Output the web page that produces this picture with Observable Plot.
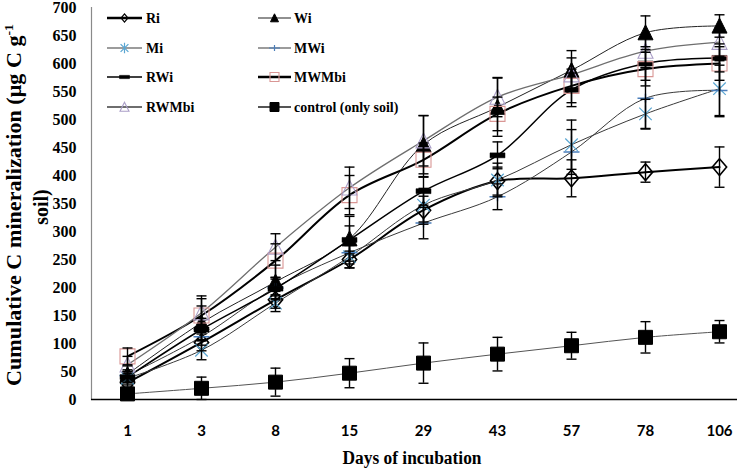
<!DOCTYPE html>
<html><head><meta charset="utf-8">
<script src="https://cdn.jsdelivr.net/npm/d3@7"></script>
<script src="https://cdn.jsdelivr.net/npm/@observablehq/plot@0.6"></script>
<style>
html,body{margin:0;padding:0;background:#fff;}
#wrap{position:relative;width:737px;height:468px;overflow:hidden;background:#fff;}
#overlay{position:absolute;left:0;top:0;pointer-events:none;}
</style></head><body><div id="wrap"></div>
<script>
// ---- data ----
const days = ["1","3","8","15","29","43","57","78","106"];
const yTicks = [0,50,100,150,200,250,300,350,400,450,500,550,600,650,700];
const seriesNames = ["Ri","Wi","Mi","MWi","RWi","MWMbi","RWMbi","control (only soil)"];
const riMean = [30, 102, 178, 250, 338, 390, 395, 406, 415];
const riSd   = [8, 15, 15, 15, 25, 25, 33, 18, 36];
const wiMean = [45, 137, 210, 287, 455, 522, 588, 655, 667];
const wiSd   = [15, 30, 30, 40, 52, 52, 35, 30, 20];
const miMean = [38, 88, 172, 255, 347, 392, 455, 510, 555];
const miSd   = [12, 17, 15, 20, 30, 30, 44, 26, 50];
const mwiMean = [43, 112, 200, 262, 315, 362, 442, 538, 552];
const mwiSd   = [10, 15, 15, 20, 28, 23, 40, 55, 45];
const rwiMean = [40, 125, 198, 285, 372, 436, 553, 600, 610];
const rwiSd   = [10, 20, 20, 25, 25, 24, 30, 30, 25];
const mwmbiMean = [77, 150, 248, 365, 428, 510, 560, 590, 600];
const mwmbiSd   = [15, 30, 30, 35, 30, 30, 30, 30, 30];
const rwmbiMean = [62, 155, 272, 378, 462, 540, 580, 622, 638];
const rwmbiSd   = [15, 30, 24, 37, 45, 35, 30, 30, 25];
const controlMean = [10, 20, 31, 47, 65, 81, 96, 111, 121];
const controlSd   = [5, 20, 25, 26, 36, 30, 24, 28, 20];

const means = [riMean, wiMean, miMean, mwiMean, rwiMean, mwmbiMean, rwmbiMean, controlMean];
const sds = [riSd, wiSd, miSd, mwiSd, rwiSd, mwmbiSd, rwmbiSd, controlSd];

// ---- symbols ----
const R = s => Math.sqrt(s/Math.PI);
const sym = {
  diamond: {draw(c,s){const r=R(s); c.moveTo(0,-r*1.12); c.lineTo(r*0.95,0); c.lineTo(0,r*1.12); c.lineTo(-r*0.95,0); c.closePath();}},
  triangle: {draw(c,s){const r=R(s); c.moveTo(0,-r*1.05); c.lineTo(r,r*0.95); c.lineTo(-r,r*0.95); c.closePath();}},
  square: {draw(c,s){const r=R(s); c.rect(-r,-r,2*r,2*r);}},
  dash: {draw(c,s){const r=R(s); c.rect(-r,-r*0.33,2*r,r*0.66);}},
  plus: {draw(c,s){const r=R(s); c.moveTo(-r,0); c.lineTo(r,0); c.moveTo(0,-r*0.55); c.lineTo(0,r*0.55);}},
  star: {draw(c,s){const r=R(s); const d=r*0.78; c.moveTo(-d,-d); c.lineTo(d,d); c.moveTo(-d,d); c.lineTo(d,-d); c.moveTo(0,-r*1.05); c.lineTo(0,r*1.05);}},
  cap: {draw(c,s){const r=R(s); c.moveTo(-r,0); c.lineTo(r,0);}}
};

// ---- styles (not data) ----
const styles = [
 {line:"#000", lw:2, sym:sym.diamond, fill:"none", stroke:"#000", sw:1.6, r:7.5, lr:3.6, llw:2.5},
 {line:"#222", lw:1, sym:sym.triangle, fill:"#000", stroke:"#000", sw:1, r:7.5, lr:4, llw:1.2},
 {line:"#3a3a3a", lw:1, sym:sym.star, fill:"none", stroke:"#5aa6d2", sw:1.2, r:8, lr:5, llw:1.2},
 {line:"#3a3a3a", lw:1, sym:sym.plus, fill:"none", stroke:"#4a7ebb", sw:1.5, r:8, lr:5.5, llw:1.2},
 {line:"#000", lw:1.5, sym:sym.dash, fill:"#000", stroke:"#000", sw:0.5, r:7.5, lr:5, llw:1.5},
 {line:"#000", lw:2, sym:sym.square, fill:"none", stroke:"#d99694", sw:1.1, r:7.5, lr:4.5, llw:2.5},
 {line:"#6e6e6e", lw:1.3, sym:sym.triangle, fill:"none", stroke:"#ab9fc8", sw:1.1, r:7.5, lr:4.5, llw:2},
 {line:"#555", lw:1, sym:sym.square, fill:"#000", stroke:"#000", sw:1, r:7, lr:4.5, llw:2}
];

const tables = seriesNames.map((name, k) => days.map((d, i) => ({day: d, series: name, mean: means[k][i], lo: means[k][i]-sds[k][i], hi: means[k][i]+sds[k][i]})));

const marks = [];
marks.push(Plot.frame({anchor:"left", stroke:"#8a8a8a", strokeWidth:1.2}));
tables.forEach((t,k) => {
  const s = styles[k];
  marks.push(Plot.line(t, {x:"day", y:"mean", stroke:s.line, strokeWidth:s.lw, curve:"catmull-rom"}));
});
tables.forEach((t,k) => {
  const s = styles[k];
  marks.push(Plot.dot(t, {x:"day", y:"mean", symbol:s.sym, r:s.r, fill:s.fill, stroke:s.stroke, strokeWidth:s.sw}));
});
tables.forEach((t,k) => {
  marks.push(Plot.ruleX(t, {x:"day", y1:"lo", y2:"hi", stroke:"#000", strokeWidth:1.4}));
  marks.push(Plot.dot(t, {x:"day", y:"lo", symbol:sym.cap, r:5, stroke:"#000", strokeWidth:1.4}));
  marks.push(Plot.dot(t, {x:"day", y:"hi", symbol:sym.cap, r:5, stroke:"#000", strokeWidth:1.4}));
});
marks.push(Plot.ruleY([0], {stroke:"#000", strokeWidth:1.6}));
marks.push(Plot.axisY({ticks:yTicks, tickSize:0, tickPadding:15, fontFamily:"Liberation Serif", fontWeight:"bold", fontSize:16, label:null, fill:"#000"}));
marks.push(Plot.axisX({tickSize:0, tickPadding:26, fontFamily:"Lato", fontWeight:"bold", fontSize:15, label:null, fill:"#000"}));

const chart = Plot.plot({
  width:737, height:468,
  marginLeft:91, marginRight:0, marginTop:7, marginBottom:69,
  x:{type:"point", domain:days, padding:0, insetLeft:35, insetRight:17},
  y:{domain:[0,700]},
  style:{background:"#fff", color:"#000"},
  marks
});
document.getElementById("wrap").appendChild(chart);

// ---- overlay: axis titles + legend ----
const ov = d3.select("#wrap").append("svg").attr("id","overlay").attr("width",737).attr("height",468);
const serif = "'Liberation Serif','Times New Roman',serif";
// y title
const yt = ov.append("text").attr("transform","translate(21,205) rotate(-90)")
  .attr("text-anchor","middle").attr("font-family",serif).attr("font-weight","bold").attr("font-size",21)
  .attr("textLength",362).attr("lengthAdjust","spacingAndGlyphs");
yt.append("tspan").text("Cumulative C  mineralization (μg C g");
yt.append("tspan").attr("dy",-8).attr("font-size",13).text("-1");
ov.append("text").attr("transform","translate(48,207) rotate(-90)")
  .attr("text-anchor","middle").attr("font-family",serif).attr("font-weight","bold").attr("font-size",20).text("soil)");
// x title
ov.append("text").attr("x",412).attr("y",464).attr("text-anchor","middle")
  .attr("font-family",serif).attr("font-weight","bold").attr("font-size",18)
  .attr("textLength",139).attr("lengthAdjust","spacingAndGlyphs").text("Days of incubation");

// legend
const legPos = [[0,0],[1,0],[0,1],[1,1],[0,2],[1,2],[0,3],[1,3]];
const colX = [[107,142,146],[258,291,294]];
const rowY = [18,48,77,107];
seriesNames.forEach((name,k) => {
  const s = styles[k];
  const [c,r] = legPos[k];
  const [x1,x2,tx] = colX[c];
  const y = rowY[r];
  ov.append("line").attr("x1",x1).attr("x2",x2).attr("y1",y).attr("y2",y).attr("stroke",s.line).attr("stroke-width",s.llw);
  const p = d3.path();
  s.sym.draw(p, s.lr*s.lr*Math.PI);
  ov.append("path").attr("d",p.toString()).attr("transform",`translate(${(x1+x2)/2},${y})`)
    .attr("fill",s.fill).attr("stroke",s.stroke).attr("stroke-width",Math.min(s.sw,1.2));
  ov.append("text").attr("x",tx).attr("y",y+5).attr("font-family",serif).attr("font-weight","bold")
    .attr("font-size",15.5).attr("transform",`translate(${tx},0) scale(0.9,1) translate(${-tx},0)`).text(name);
});
</script></body></html>
